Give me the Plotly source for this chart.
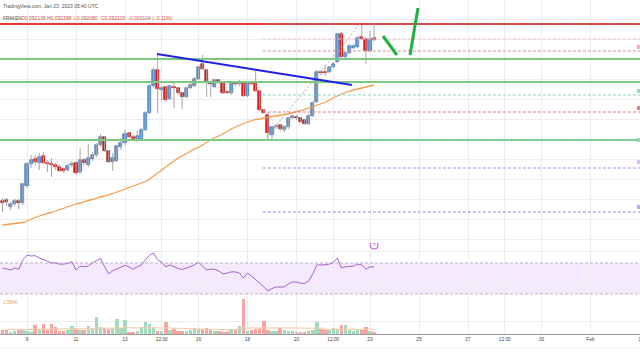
import pandas as pd
import plotly.graph_objects as go

# ---------------- data ----------------
bar_start = "2023-01-08 00:00"
bar_count = 92
bar_freq = "4h"

opens = [0.08888, 0.08890, 0.08876, 0.08882, 0.08888, 0.08884, 0.08918, 0.08962, 0.08972, 0.08964,
         0.08978, 0.08964, 0.08962, 0.08960, 0.08956, 0.08952, 0.08950, 0.08960, 0.08964, 0.08946,
         0.08970, 0.08960, 0.08972, 0.08980, 0.09000, 0.09016, 0.08988, 0.08966, 0.08968, 0.08996,
         0.09004, 0.09024, 0.09016, 0.09012, 0.09012, 0.09030, 0.09064, 0.09118, 0.09150, 0.09110,
         0.09116, 0.09092, 0.09116, 0.09114, 0.09104, 0.09096, 0.09114, 0.09118, 0.09132, 0.09162,
         0.09150, 0.09124, 0.09116, 0.09130, 0.09124, 0.09106, 0.09104, 0.09124, 0.09122, 0.09124,
         0.09098, 0.09124, 0.09124, 0.09108, 0.09070, 0.09060, 0.09020, 0.09036, 0.09040, 0.09030,
         0.09036, 0.09054, 0.09056, 0.09054, 0.09050, 0.09042, 0.09058, 0.09086, 0.09146, 0.09146,
         0.09146, 0.09156, 0.09166, 0.09222, 0.09176, 0.09184, 0.09194, 0.09196, 0.09216, 0.09212,
         0.09188, 0.092136]
highs = [0.08894, 0.08894, 0.08886, 0.08892, 0.08892, 0.08924, 0.08966, 0.08980, 0.08980, 0.08984,
         0.08986, 0.08970, 0.08974, 0.08964, 0.08960, 0.08954, 0.08962, 0.08968, 0.08968, 0.08994,
         0.08974, 0.09002, 0.08986, 0.09004, 0.09022, 0.09018, 0.08990, 0.08984, 0.09000, 0.09014,
         0.09030, 0.09026, 0.09020, 0.09030, 0.09034, 0.09068, 0.09122, 0.09154, 0.09182, 0.09118,
         0.09118, 0.09120, 0.09124, 0.09116, 0.09106, 0.09116, 0.09124, 0.09136, 0.09158, 0.09180,
         0.09152, 0.09126, 0.09132, 0.09132, 0.09126, 0.09110, 0.09126, 0.09128, 0.09130, 0.09126,
         0.09126, 0.09126, 0.09150, 0.09110, 0.09072, 0.09066, 0.09038, 0.09042, 0.09042, 0.09040,
         0.09056, 0.09060, 0.09060, 0.09056, 0.09052, 0.09062, 0.09088, 0.09150, 0.09150, 0.09160,
         0.09158, 0.09166, 0.09224, 0.09226, 0.09186, 0.09202, 0.09202, 0.09218, 0.09240, 0.09216,
         0.09228, 0.092398]
lows = [0.08866, 0.08878, 0.08870, 0.08878, 0.08872, 0.08880, 0.08914, 0.08954, 0.08960, 0.08950,
        0.08962, 0.08946, 0.08936, 0.08950, 0.08946, 0.08944, 0.08946, 0.08956, 0.08940, 0.08942,
        0.08960, 0.08956, 0.08968, 0.08976, 0.08996, 0.08986, 0.08964, 0.08948, 0.08966, 0.08990,
        0.09000, 0.09014, 0.09008, 0.09006, 0.09010, 0.09028, 0.09062, 0.09114, 0.09064, 0.09090,
        0.09086, 0.09090, 0.09074, 0.09100, 0.09072, 0.09094, 0.09112, 0.09116, 0.09130, 0.09150,
        0.09096, 0.09096, 0.09114, 0.09122, 0.09102, 0.09102, 0.09100, 0.09118, 0.09118, 0.09096,
        0.09096, 0.09120, 0.09106, 0.09068, 0.09062, 0.09012, 0.09012, 0.09032, 0.09028, 0.09026,
        0.09032, 0.09052, 0.09050, 0.09044, 0.09040, 0.09040, 0.09056, 0.09084, 0.09140, 0.09138,
        0.09144, 0.09154, 0.09164, 0.09174, 0.09174, 0.09182, 0.09192, 0.09194, 0.09210, 0.09162,
        0.09186, 0.092080]
closes = [0.08884, 0.08886, 0.08882, 0.08888, 0.08884, 0.08922, 0.08962, 0.08970, 0.08966, 0.08976,
          0.08964, 0.08962, 0.08960, 0.08956, 0.08948, 0.08948, 0.08958, 0.08962, 0.08944, 0.08970,
          0.08964, 0.08974, 0.08980, 0.09000, 0.09016, 0.08988, 0.08966, 0.08974, 0.08998, 0.09004,
          0.09022, 0.09016, 0.09012, 0.09018, 0.09030, 0.09064, 0.09118, 0.09150, 0.09112, 0.09114,
          0.09090, 0.09118, 0.09114, 0.09104, 0.09096, 0.09114, 0.09120, 0.09132, 0.09156, 0.09152,
          0.09124, 0.09122, 0.09130, 0.09124, 0.09104, 0.09104, 0.09124, 0.09122, 0.09124, 0.09098,
          0.09124, 0.09122, 0.09108, 0.09070, 0.09064, 0.09024, 0.09036, 0.09038, 0.09032, 0.09036,
          0.09054, 0.09058, 0.09054, 0.09046, 0.09042, 0.09058, 0.09084, 0.09146, 0.09144, 0.09144,
          0.09156, 0.09162, 0.09222, 0.09176, 0.09184, 0.09198, 0.09198, 0.09214, 0.09212, 0.09188,
          0.09212, 0.092100]

ma_line = [0.08840, 0.08841, 0.08842, 0.08843, 0.08844, 0.08845, 0.08848, 0.08852, 0.08855, 0.08858,
           0.08861, 0.08863, 0.08865, 0.08868, 0.08870, 0.08873, 0.08876, 0.08879, 0.08882, 0.08884,
           0.08887, 0.08889, 0.08891, 0.08894, 0.08896, 0.08898, 0.08900, 0.08903, 0.08906, 0.08909,
           0.08912, 0.08915, 0.08918, 0.08921, 0.08924, 0.08927, 0.08932, 0.08938, 0.08944, 0.08950,
           0.08956, 0.08962, 0.08968, 0.08974, 0.08978, 0.08983, 0.08988, 0.08992, 0.08995, 0.09000,
           0.09006, 0.09011, 0.09015, 0.09018, 0.09022, 0.09027, 0.09032, 0.09036, 0.09040, 0.09043,
           0.09046, 0.09049, 0.09051, 0.09052, 0.09054, 0.09056, 0.09057, 0.09058, 0.09060, 0.09061,
           0.09062, 0.09064, 0.09066, 0.09068, 0.09071, 0.09074, 0.09076, 0.09080, 0.09082, 0.09085,
           0.09090, 0.09094, 0.09099, 0.09102, 0.09105, 0.09108, 0.09110, 0.09112, 0.09114, 0.09116,
           0.09118, 0.09120]

rsi = [63.5, 62, 61, 63.5, 62, 74, 80, 79, 79.5, 76.5,
       75, 72.5, 70, 70, 68.5, 68.5, 69.5, 71.5, 61, 66,
       65, 66, 70, 72.5, 76, 65, 56, 60, 62, 65,
       67, 65, 62, 65, 67.5, 74, 80, 83, 74, 71,
       65, 67.5, 65, 63, 61.5, 63.5, 65.5, 67.5, 71, 66,
       61, 62, 62, 59.5, 56, 57, 58.5, 58.5, 57, 50.5,
       57, 53, 49, 44, 39, 34, 37, 39, 39, 39,
       43, 45.5, 45.5, 44, 43.5, 47, 56, 67.5, 67.5, 67.5,
       68.5, 70.5, 76.5, 63.5, 65, 65.5, 66, 68.5, 67.5, 62,
       65, 65]

volume_k = [0.40, 0.40, 0.20, 0.30, 0.40, 0.40, 0.30, 0.20, 0.90, 0.40,
            1.00, 0.40, 1.00, 0.70, 0.30, 0.30, 0.40, 0.80, 0.50, 0.40,
            0.40, 0.80, 0.50, 1.70, 0.70, 0.60, 0.50, 0.60, 1.50, 0.60,
            1.40, 0.20, 0.20, 0.30, 0.70, 1.20, 1.00, 0.70, 0.30, 0.30,
            1.20, 0.40, 0.50, 0.30, 0.30, 0.30, 0.40, 0.60, 0.50, 0.50,
            0.60, 0.40, 0.30, 0.30, 0.25, 0.20, 0.50, 0.50, 0.80, 3.50,
            0.30, 0.40, 0.50, 0.60, 1.30, 0.40, 0.30, 0.30, 0.60, 0.40,
            0.30, 0.30, 0.25, 0.25, 0.20, 0.30, 0.40, 1.20, 0.50, 0.40,
            0.40, 0.60, 0.50, 0.90, 0.90, 0.40, 0.30, 0.40, 0.40, 0.70,
            0.30, 0.20]
volume_ma_k = [0.42, 0.42, 0.41, 0.41, 0.41, 0.41, 0.41, 0.42, 0.44, 0.44,
               0.46, 0.46, 0.48, 0.50, 0.50, 0.50, 0.50, 0.52, 0.52, 0.52,
               0.52, 0.54, 0.54, 0.58, 0.58, 0.58, 0.56, 0.56, 0.60, 0.60,
               0.64, 0.62, 0.60, 0.58, 0.60, 0.62, 0.64, 0.64, 0.62, 0.60,
               0.62, 0.60, 0.58, 0.56, 0.54, 0.52, 0.52, 0.50, 0.50, 0.48,
               0.48, 0.46, 0.44, 0.44, 0.42, 0.42, 0.42, 0.42, 0.44, 0.60,
               0.60, 0.60, 0.60, 0.62, 0.66, 0.66, 0.64, 0.64, 0.64, 0.64,
               0.62, 0.62, 0.60, 0.60, 0.58, 0.58, 0.58, 0.62, 0.60, 0.46,
               0.46, 0.46, 0.46, 0.48, 0.50, 0.48, 0.48, 0.48, 0.48, 0.50,
               0.48, 0.48]

resistance_level = 0.09242
support_levels = [0.09172, 0.09126, 0.09010]
fib_start = "2023-01-18 15:00"
fib_levels = [0.09242, 0.09212, 0.09188, 0.09100, 0.09066, 0.09010, 0.08954, 0.08866]
fib_colors = ["rgba(140,140,140,0.8)", "#f4c6c6", "#d98a8a", "#86d3c4", "#f07070",
              "#86d3c4", "#d6aef0", "#8c8ce0"]
fib_tag_levels = [0.09196, 0.09108, 0.09074, 0.09010, 0.08966, 0.08876]
fib_tag_colors = ["#f3b3b3", "#8ad8c8", "#c88c8c", "#8ad8c8", "#d9b8f0", "#b0b0ea"]
trend_x = ["2023-01-14 07:20", "2023-01-22 06:20"]
trend_y = [0.09182, 0.09120]
fib_diag_x = ["2023-01-18 16:10", "2023-01-22 14:10"]
fib_diag_y = [0.09010, 0.09242]
arrow1_x = ["2023-01-23 12:44", "2023-01-24 02:24"]
arrow1_y = [0.09218, 0.09180]
arrow2_x = ["2023-01-24 15:12", "2023-01-24 23:00"]
arrow2_y = [0.09180, 0.09274]
rsi_band = [30, 70]
alert_time = "2023-01-23 04:00"
alert_rsi = 93

x_range = ["2023-01-07 21:33", "2023-02-03 00:29"]
tick_vals = ["2023-01-09", "2023-01-11", "2023-01-13", "2023-01-14 12:00", "2023-01-16",
             "2023-01-18", "2023-01-20", "2023-01-21 12:00", "2023-01-23", "2023-01-25",
             "2023-01-27", "2023-01-28 12:00", "2023-01-30", "2023-02-01", "2023-02-03"]
tick_text = ["9", "11", "13", "12:00", "16", "18", "20", "12:00", "23", "25", "27",
             "12:00", "30", "Feb", "3"]

header_line1 = "TradingView.com, Jan 23, 2023 05:40 UTC"
header_exchange = "KRAKEN"
header_values = ["O0.092136", "H0.092398", "L0.092080", "C0.092100", "\u22120.000104 (\u22120.11%)"]
volume_label = "1.584K"

# ---------------- figure ----------------
times = pd.date_range(bar_start, periods=bar_count, freq=bar_freq)
FONT = "Liberation Sans, Arial, sans-serif"
H = 334.0  # plot-area height in px

up = [c >= o for o, c in zip(opens, closes)]
body_fill = ["#5f97d6" if u else "#e31e1e" for u in up]
body_edge = ["#2f68ad" if u else "#b40000" for u in up]
vol_col = ["#a3d9bf" if u else "#f6a5a5" for u in up]

wick_x, wick_y = [], []
for t, h, l in zip(times, highs, lows):
    wick_x += [t, t, None]
    wick_y += [h, l, None]

fig = go.Figure()
fig.add_trace(go.Scatter(x=times, y=ma_line, mode="lines",
                         line=dict(color="#f39d4c", width=1.3), hoverinfo="skip"))
fig.add_trace(go.Scatter(x=wick_x, y=wick_y, mode="lines",
                         line=dict(color="#a5a5a5", width=1), hoverinfo="skip"))
fig.add_trace(go.Bar(x=times, y=[c - o for o, c in zip(opens, closes)], base=opens,
                     width=0.75 * 4 * 3600 * 1000,
                     marker=dict(color=body_fill, line=dict(color=body_edge, width=0.6))))
fig.add_trace(go.Scatter(x=times, y=rsi, yaxis="y2", mode="lines",
                         line=dict(color="#a95fd0", width=1), hoverinfo="skip"))
fig.add_trace(go.Scatter(x=[alert_time], y=[alert_rsi], yaxis="y2", mode="markers+text",
                         marker=dict(symbol="circle-open", size=8, color="#b04fd0",
                                     line=dict(width=1, color="#b04fd0")),
                         text=["\u03df"], textposition="middle center",
                         textfont=dict(size=5, color="#b04fd0", family=FONT)))
fig.add_trace(go.Bar(x=times, y=volume_k, yaxis="y3", width=0.85 * 4 * 3600 * 1000,
                     marker=dict(color=vol_col, line=dict(width=0))))
fig.add_trace(go.Scatter(x=times, y=volume_ma_k, yaxis="y3", mode="lines",
                         line=dict(color="#f8c9a0", width=1), hoverinfo="skip"))

shapes = []
# RSI band
shapes.append(dict(type="rect", xref="paper", yref="y2", x0=0, x1=1, y0=rsi_band[0], y1=rsi_band[1],
                   fillcolor="rgba(190,120,245,0.16)", line=dict(width=0), layer="below"))
for v in rsi_band:
    shapes.append(dict(type="line", xref="paper", yref="y2", x0=0, x1=1, y0=v, y1=v,
                       line=dict(color="rgba(160,150,180,0.7)", width=1, dash="3px,2px")))
# horizontal support / resistance
for v in support_levels:
    shapes.append(dict(type="line", xref="paper", yref="y", x0=0, x1=1, y0=v, y1=v,
                       line=dict(color="#7cc87f", width=2)))
shapes.append(dict(type="line", xref="paper", yref="y", x0=0, x1=1, y0=resistance_level,
                   y1=resistance_level, line=dict(color="#f03434", width=2)))
# fib levels
for v, c in zip(fib_levels, fib_colors):
    w = 1.5 if c == "#d6aef0" else 1
    shapes.append(dict(type="line", xref="x", yref="y", x0=fib_start, x1=x_range[1], y0=v, y1=v,
                       line=dict(color=c, width=w, dash="3px,2px")))
for v, c in zip(fib_tag_levels, fib_tag_colors):
    shapes.append(dict(type="rect", xref="paper", yref="y", x0=637 / 640, x1=1,
                       y0=v - 0.00004, y1=v + 0.00004, fillcolor=c, line=dict(width=0)))
# fib diagonal
shapes.append(dict(type="line", xref="x", yref="y", x0=fib_diag_x[0], x1=fib_diag_x[1],
                   y0=fib_diag_y[0], y1=fib_diag_y[1],
                   line=dict(color="#a8a8a8", width=1, dash="2px,2px")))
# trend line
shapes.append(dict(type="line", xref="x", yref="y", x0=trend_x[0], x1=trend_x[1],
                   y0=trend_y[0], y1=trend_y[1], line=dict(color="#2020e6", width=2)))
# green projection strokes
for ax_, ay_ in ((arrow1_x, arrow1_y), (arrow2_x, arrow2_y)):
    shapes.append(dict(type="line", xref="x", yref="y", x0=ax_[0], x1=ax_[1],
                       y0=ay_[0], y1=ay_[1], line=dict(color="#1fb044", width=3)))
# faint bottom line of the time scale
shapes.append(dict(type="line", xref="paper", yref="paper", x0=0, x1=1,
                   y0=-14 / H, y1=-14 / H, line=dict(color="#eeeeee", width=1)))

annotations = [
    dict(xref="paper", yref="paper", x=0.5 / 640, y=1 - 5.7 / H, xanchor="left", yanchor="middle",
         text=header_line1, showarrow=False, font=dict(size=5, color="#555555", family=FONT)),
    dict(xref="paper", yref="paper", x=0.5 / 640, y=1 - 18.3 / H, xanchor="left", yanchor="middle",
         text=header_exchange, showarrow=False, font=dict(size=4.5, color="#444444", family=FONT)),
    dict(xref="paper", yref="paper", x=0.5 / 640, y=1 - 302 / H, xanchor="left", yanchor="middle",
         text=volume_label, showarrow=False, font=dict(size=4.8, color="#f3a062", family=FONT)),
]
for txt, px in zip(header_values, [19, 45, 72, 99, 125]):
    annotations.append(dict(xref="paper", yref="paper", x=px / 640, y=1 - 18.3 / H,
                            xanchor="left", yanchor="middle", text=txt, showarrow=False,
                            font=dict(size=5, color="#d04a44", family=FONT)))

grid = "#ececec"
fig.update_layout(
    width=640, height=360, autosize=False,
    margin=dict(l=0, r=0, t=0, b=26),
    paper_bgcolor="white", plot_bgcolor="white",
    showlegend=False, barmode="overlay", bargap=0,
    font=dict(family=FONT),
    shapes=shapes, annotations=annotations,
    xaxis=dict(type="date", range=x_range, tickvals=tick_vals, ticktext=tick_text,
               tickfont=dict(size=4.8, color="#444444", family=FONT), ticks="",
               ticklabeloverflow="allow",
               showgrid=True, gridcolor=grid, gridwidth=1, zeroline=False,
               showline=True, linecolor="#9a9a9a", linewidth=1, anchor="y3",
               fixedrange=True),
    yaxis=dict(domain=[91 / H, 1], range=[0.08804, 0.0929], tick0=0.09092, dtick=0.0004,
               showticklabels=False, showgrid=True, gridcolor=grid, zeroline=False, fixedrange=True),
    yaxis2=dict(domain=[36 / H, 91 / H], range=[24.8, 95.8], tickvals=[40, 85],
                showticklabels=False, showgrid=True, gridcolor=grid, zeroline=False, fixedrange=True),
    yaxis3=dict(domain=[0, 36 / H], range=[0, 3.6], tickvals=[1.3],
                showticklabels=False, showgrid=True, gridcolor=grid, zeroline=False, fixedrange=True),
)

fig.write_html("out.html", config={"displayModeBar": False},
               post_script="document.body.style.margin='0px';document.body.style.overflow='hidden';")
